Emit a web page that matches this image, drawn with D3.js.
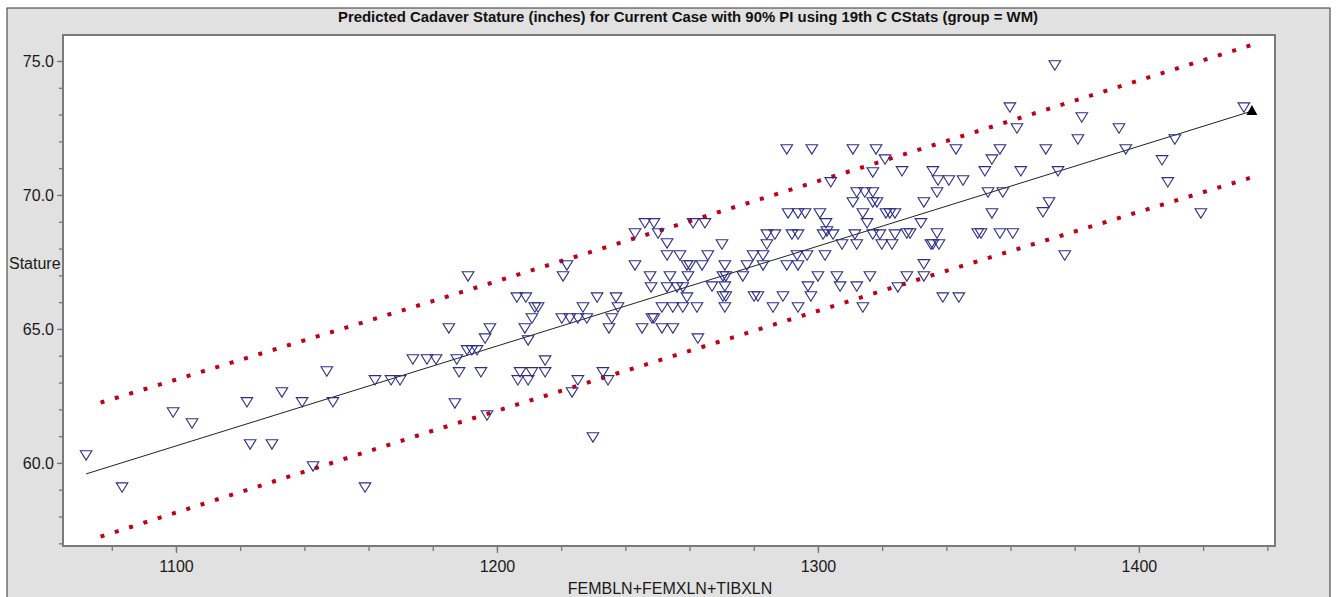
<!DOCTYPE html>
<html>
<head>
<meta charset="utf-8">
<script src="https://cdn.jsdelivr.net/npm/d3@7/dist/d3.min.js"></script>
<style>
  body { margin: 0; background: #ffffff; }
  svg { display: block; font-family: "Liberation Sans", Arial, sans-serif; }
</style>
</head>
<body>
<div id="chart"></div>
<script>
// observed cases: summed bone lengths (mm) and cadaver stature (inches)
const lengths = [
  1072.0, 1083.2, 1099.1, 1105.0, 1122.1, 1123.1, 1129.9, 1133.0, 1139.3, 1142.7,
  1147.0, 1148.9, 1158.9, 1162.0, 1167.0, 1169.8, 1173.8, 1178.2, 1181.0, 1185.0,
  1187.5, 1188.2, 1186.9, 1191.0, 1197.8, 1196.3, 1190.7, 1192.2, 1193.8, 1195.0,
  1196.9, 1206.2, 1209.0, 1211.8, 1212.8, 1210.9, 1208.7, 1209.7, 1215.0, 1215.0,
  1207.2, 1210.9, 1206.5, 1209.7, 1220.6, 1221.8, 1220.2, 1222.7, 1225.2, 1228.0,
  1226.8, 1231.2, 1237.1, 1237.7, 1235.8, 1234.9, 1225.2, 1233.0, 1234.6, 1223.4,
  1229.9, 1243.0, 1246.1, 1248.9, 1250.2, 1253.0, 1253.0, 1257.0, 1261.1, 1243.0,
  1247.7, 1248.0, 1253.9, 1259.2, 1260.1, 1259.5, 1253.0, 1256.1, 1257.9, 1259.2,
  1251.4, 1254.8, 1257.9, 1262.3, 1248.3, 1248.9, 1245.2, 1251.4, 1254.8, 1262.6,
  1290.3, 1298.1, 1310.9, 1318.1, 1320.9, 1317.1, 1304.0, 1312.1, 1314.6, 1317.1,
  1310.9, 1317.1, 1318.4, 1290.7, 1293.8, 1296.0, 1300.6, 1302.5, 1302.8, 1314.0,
  1315.3, 1321.2, 1322.4, 1324.0, 1264.8, 1270.1, 1284.1, 1286.6, 1291.9, 1293.8,
  1284.1, 1301.6, 1304.7, 1311.5, 1317.1, 1319.3, 1324.0, 1307.5, 1312.1, 1319.9,
  1323.1, 1265.7, 1279.8, 1282.9, 1293.5, 1296.6, 1302.2, 1263.9, 1271.0, 1277.9,
  1282.9, 1290.3, 1293.8, 1270.4, 1271.3, 1276.6, 1300.0, 1305.9, 1316.2, 1267.0,
  1271.0, 1296.9, 1306.9, 1312.1, 1270.4, 1271.3, 1280.1, 1281.3, 1289.1, 1297.8,
  1271.0, 1286.0, 1293.8, 1314.0, 1359.8, 1382.2, 1393.8, 1362.0, 1381.0, 1343.0,
  1356.7, 1371.0, 1395.9, 1354.2, 1326.2, 1335.8, 1352.0, 1363.2, 1374.8, 1337.4,
  1340.8, 1345.2, 1337.1, 1353.0, 1357.6, 1333.0, 1372.0, 1370.1, 1354.2, 1332.1,
  1327.7, 1328.7, 1337.1, 1349.8, 1350.8, 1356.7, 1360.7, 1335.2, 1335.8, 1337.7,
  1376.9, 1333.0, 1327.7, 1333.0, 1324.9, 1338.9, 1343.9, 1411.2, 1407.2, 1409.0,
  1419.3, 1432.7, 1373.8
];
const statures = [
  60.30, 59.10, 61.90, 61.49, 62.28, 60.71, 60.71, 62.65, 62.28, 59.89,
  63.43, 62.28, 59.10, 63.10, 63.10, 63.10, 63.88, 63.88, 63.88, 65.04,
  63.88, 63.40, 62.24, 66.98, 65.04, 64.66, 64.22, 64.22, 64.22, 63.40,
  61.79, 66.19, 66.19, 65.82, 65.82, 65.41, 65.04, 64.59, 63.84, 63.40,
  63.40, 63.40, 63.10, 63.10, 66.98, 67.39, 65.41, 65.41, 65.41, 65.41,
  65.82, 66.19, 66.19, 65.82, 65.41, 65.04, 63.10, 63.40, 63.10, 62.65,
  60.97, 68.58, 68.96, 68.96, 68.58, 68.21, 67.76, 67.76, 68.96, 67.39,
  66.98, 66.57, 66.98, 67.39, 67.39, 66.98, 66.57, 66.57, 66.57, 66.19,
  65.82, 65.82, 65.82, 65.82, 65.41, 65.41, 65.04, 65.04, 65.04, 64.66,
  71.72, 71.72, 71.72, 71.72, 71.34, 70.86, 70.49, 70.11, 70.11, 70.11,
  69.74, 69.74, 69.74, 69.33, 69.33, 69.33, 69.33, 68.96, 68.66, 69.33,
  68.96, 69.33, 69.33, 69.33, 68.96, 68.17, 68.54, 68.54, 68.54, 68.54,
  68.17, 68.54, 68.54, 68.54, 68.54, 68.54, 68.54, 68.17, 68.17, 68.17,
  68.17, 67.76, 67.76, 67.76, 67.76, 67.76, 67.76, 67.39, 67.39, 67.39,
  67.39, 67.39, 67.39, 66.98, 66.98, 66.98, 66.98, 66.98, 66.98, 66.60,
  66.60, 66.60, 66.60, 66.60, 66.23, 66.23, 66.23, 66.23, 66.23, 66.23,
  65.82, 65.82, 65.82, 65.82, 73.28, 72.91, 72.50, 72.50, 72.09, 71.72,
  71.72, 71.72, 71.72, 71.34, 70.90, 70.90, 70.90, 70.90, 70.90, 70.56,
  70.56, 70.56, 70.11, 70.11, 70.11, 69.74, 69.74, 69.37, 69.33, 68.96,
  68.58, 68.58, 68.58, 68.58, 68.58, 68.58, 68.58, 68.17, 68.17, 68.17,
  67.76, 67.43, 66.98, 66.98, 66.57, 66.19, 66.19, 72.09, 71.31, 70.49,
  69.33, 73.28, 74.85
];

// fitted line and 90% prediction interval
const fitX = [1072.0, 1435.2];
const fitY = [59.59, 73.13];
const piX = [1076.5, 1180, 1260, 1340, 1435.2];
const piUpper = [62.25, 66.04, 69.02, 72.01, 75.60];
const piLower = [57.25, 61.20, 64.18, 67.17, 70.66];

// the current case
const caseX = [1435.2];
const caseY = [73.13];

const xMajor = [1100, 1200, 1300, 1400];
const xMinor = d3.range(1080, 1441, 20);
const yMajor = [60, 65, 70, 75];
const yMinor = d3.range(57, 76, 1);

const W = 1336, H = 597;
const plot = { left: 63, right: 1275, top: 35, bottom: 546 };

const svg = d3.select('#chart').append('svg')
  .attr('width', W)
  .attr('height', H);

// grey panel with its thin frame
svg.append('rect')
  .attr('x', 7).attr('y', 8)
  .attr('width', 1323).attr('height', H)
  .attr('fill', '#e1e1e1')
  .attr('stroke', '#333')
  .attr('stroke-width', 1);

svg.append('rect')
  .attr('x', plot.left).attr('y', plot.top)
  .attr('width', plot.right - plot.left).attr('height', plot.bottom - plot.top)
  .attr('fill', '#ffffff');

const x = d3.scaleLinear().domain([1064.8, 1442.4]).range([plot.left, plot.right]);
const y = d3.scaleLinear().domain([56.9, 75.97]).range([plot.bottom, plot.top]);

svg.append('text')
  .attr('x', 688).attr('y', 22)
  .attr('text-anchor', 'middle')
  .attr('font-size', 14)
  .attr('font-weight', 'bold')
  .attr('fill', '#111')
  .attr('textLength', 700)
  .attr('lengthAdjust', 'spacingAndGlyphs')
  .text('Predicted Cadaver Stature (inches) for Current Case with 90% PI using 19th C CStats (group = WM)');

// axes: minor ticks first, then majors with labels
const axisColor = '#777';
const yMinorAxis = svg.append('g')
  .attr('transform', `translate(${plot.left},0)`)
  .call(d3.axisLeft(y).tickValues(yMinor).tickSize(4).tickFormat(''));
const yAxis = svg.append('g')
  .attr('transform', `translate(${plot.left},0)`)
  .call(d3.axisLeft(y).tickValues(yMajor).tickSize(6).tickPadding(3).tickFormat(d3.format('.1f')));
const xMinorAxis = svg.append('g')
  .attr('transform', `translate(0,${plot.bottom})`)
  .call(d3.axisBottom(x).tickValues(xMinor).tickSize(5).tickFormat(''));
const xAxis = svg.append('g')
  .attr('transform', `translate(0,${plot.bottom})`)
  .call(d3.axisBottom(x).tickValues(xMajor).tickSize(7).tickPadding(8).tickFormat(d3.format('d')));

[yMinorAxis, yAxis, xMinorAxis, xAxis].forEach(g => {
  g.select('.domain').remove();
  g.selectAll('line').attr('stroke', axisColor).attr('stroke-width', 1.3);
  g.selectAll('text')
    .attr('font-size', 16)
    .attr('fill', '#1a1a1a')
    .attr('font-family', '"Liberation Sans", Arial, sans-serif');
});

svg.append('text')
  .attr('x', 9).attr('y', 269)
  .attr('font-size', 16)
  .attr('fill', '#1a1a1a')
  .text('Stature');

svg.append('text')
  .attr('x', 670).attr('y', 594)
  .attr('text-anchor', 'middle')
  .attr('font-size', 16)
  .attr('fill', '#1a1a1a')
  .text('FEMBLN+FEMXLN+TIBXLN');

const lineGen = d3.line().x(d => x(d[0])).y(d => y(d[1]));

// prediction interval as dotted red lines
[piUpper, piLower].forEach(band => {
  svg.append('path')
    .datum(piX.map((v, i) => [v, band[i]]))
    .attr('d', lineGen)
    .attr('fill', 'none')
    .attr('stroke', '#c00018')
    .attr('stroke-width', 4)
    .attr('stroke-dasharray', '4 11');
});

svg.append('path')
  .datum(fitX.map((v, i) => [v, fitY[i]]))
  .attr('d', lineGen)
  .attr('fill', 'none')
  .attr('stroke', '#222')
  .attr('stroke-width', 1);

// open down-pointing triangles for the reference sample
const tri = 'M-5.8,-4.2L5.8,-4.2L0,5.2Z';
svg.append('g')
  .selectAll('path')
  .data(lengths.map((v, i) => [v, statures[i]]))
  .join('path')
  .attr('d', tri)
  .attr('transform', d => `translate(${x(d[0])},${y(d[1])})`)
  .attr('fill', 'none')
  .attr('stroke', '#2e2e88')
  .attr('stroke-width', 1.1);

svg.append('g')
  .selectAll('path')
  .data(caseX.map((v, i) => [v, caseY[i]]))
  .join('path')
  .attr('d', 'M0,-6L5.5,4L-5.5,4Z')
  .attr('transform', d => `translate(${x(d[0])},${y(d[1])})`)
  .attr('fill', '#000');

// plot frame on top
svg.append('rect')
  .attr('x', plot.left).attr('y', plot.top)
  .attr('width', plot.right - plot.left).attr('height', plot.bottom - plot.top)
  .attr('fill', 'none')
  .attr('stroke', '#7a7a7a')
  .attr('stroke-width', 2);
</script>
</body>
</html>
